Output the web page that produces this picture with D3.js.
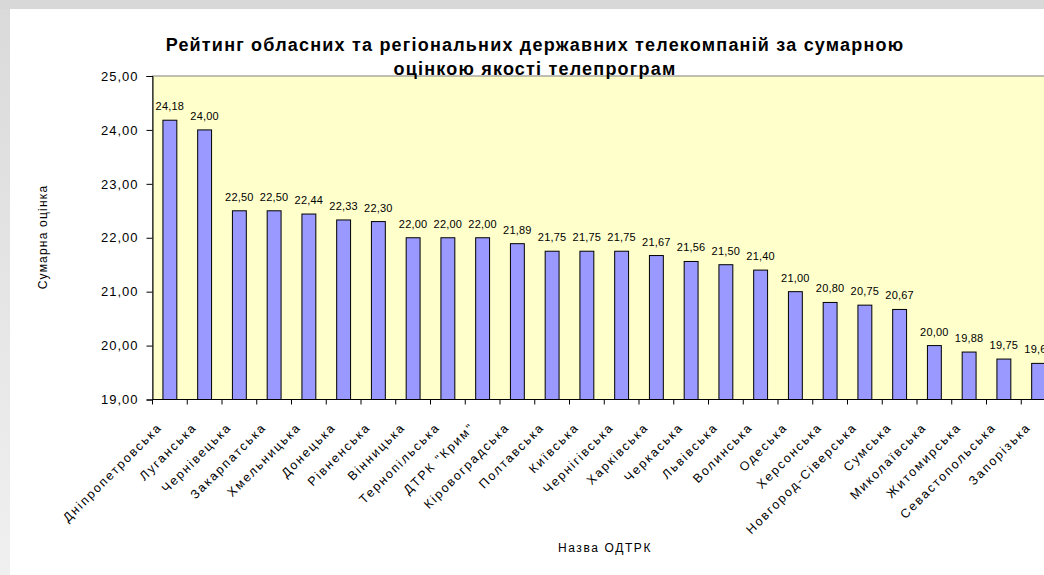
<!DOCTYPE html>
<html>
<head>
<meta charset="utf-8">
<script src="https://cdn.jsdelivr.net/npm/d3@7"></script>
<style>
  body { margin: 0; background: #fff; }
  svg { display: block; font-family: Arial, "Liberation Sans", sans-serif; }
</style>
</head>
<body>
<div id="chart"></div>
<script>
// Chart data
const regions = ["Дніпропетровська", "Луганська", "Чернівецька", "Закарпатська", "Хмельницька",
    "Донецька", "Рівненська", "Вінницька", "Тернопільська", "ДТРК \"Крим\"", "Кіровоградська",
    "Полтавська", "Київська", "Чернігівська", "Харківська", "Черкаська", "Львівська", "Волинська",
    "Одеська", "Херсонська", "Новгород-Сіверська", "Сумська", "Миколаївська", "Житомирська",
    "Севастопольська", "Запорізька"];
const scores = [24.18, 24.00, 22.50, 22.50, 22.44, 22.33, 22.30, 22.00, 22.00, 22.00, 21.89,
    21.75, 21.75, 21.75, 21.67, 21.56, 21.50, 21.40, 21.00, 20.80, 20.75, 20.67,
    20.00, 19.88, 19.75, 19.67];
const yTicks = [19, 20, 21, 22, 23, 24, 25];
const titleLines = ["Рейтинг обласних та регіональних державних телекомпаній за сумарною",
    "оцінкою якості телепрограм"];

const width = 1044;
const height = 575;
const plot = { left: 152.5, top: 76, right: 1056, bottom: 399.5 };

const data = regions.map((r, i) => ({ region: r, score: scores[i] }));
const fmt = v => d3.format(".2f")(v).replace(".", ",");

const svg = d3.select("#chart")
    .append("svg")
    .attr("width", width)
    .attr("height", height);

// page frame: grey strips on top and left
const grad = svg.append("defs").append("linearGradient")
    .attr("id", "leftStrip")
    .attr("x1", 0).attr("y1", 0).attr("x2", 0).attr("y2", 1);
grad.append("stop").attr("offset", "0%").attr("stop-color", "#dadada");
grad.append("stop").attr("offset", "100%").attr("stop-color", "#f0f0f0");

svg.append("rect").attr("x", 0).attr("y", 0).attr("width", width).attr("height", 9).attr("fill", "#d8d8d8");
svg.append("rect").attr("x", 0).attr("y", 9).attr("width", 10).attr("height", height - 9).attr("fill", "url(#leftStrip)");

// Scales
const x = d3.scaleBand()
    .domain(regions)
    .range([plot.left, plot.right])
    .paddingInner(0.6)
    .paddingOuter(0.3);
const xCat = d3.scaleBand()
    .domain(regions)
    .range([plot.left, plot.right]);
const y = d3.scaleLinear()
    .domain([19, 25])
    .range([plot.bottom, plot.top]);

// Plot area
svg.append("rect")
    .attr("x", plot.left)
    .attr("y", plot.top)
    .attr("width", plot.right - plot.left)
    .attr("height", plot.bottom - plot.top)
    .attr("fill", "#ffffcc")
    .attr("stroke", "#808080")
    .attr("stroke-width", 1);

// Bars
svg.append("g")
    .selectAll("rect")
    .data(data)
    .join("rect")
    .attr("x", d => x(d.region))
    .attr("y", d => y(d.score))
    .attr("width", x.bandwidth())
    .attr("height", d => y(19) - y(d.score))
    .attr("fill", "#9999ff")
    .attr("stroke", "#000")
    .attr("stroke-width", 1);

// Value labels
svg.append("g")
    .selectAll("text")
    .data(data)
    .join("text")
    .attr("x", d => x(d.region) + x.bandwidth() / 2)
    .attr("y", d => y(d.score) - 10)
    .attr("text-anchor", "middle")
    .attr("font-size", 11)
    .attr("letter-spacing", 0.2)
    .attr("fill", "#000")
    .text(d => fmt(d.score));

// Y axis
const yAxis = svg.append("g")
    .attr("transform", `translate(${plot.left},0)`)
    .call(d3.axisLeft(y).tickValues(yTicks).tickFormat(fmt).tickSize(6).tickPadding(8));
yAxis.select(".domain").attr("stroke", "#000");
yAxis.selectAll(".tick line").attr("stroke", "#000");
yAxis.selectAll(".tick text")
    .attr("font-size", 13)
    .attr("letter-spacing", 1)
    .attr("font-family", "Arial, 'Liberation Sans', sans-serif")
    .attr("fill", "#000");

// X axis: ticks on category boundaries
const xAxis = svg.append("g");
xAxis.append("line")
    .attr("x1", plot.left).attr("x2", plot.right)
    .attr("y1", plot.bottom).attr("y2", plot.bottom)
    .attr("stroke", "#000");
xAxis.selectAll("line.tk")
    .data(regions)
    .join("line")
    .attr("class", "tk")
    .attr("x1", d => xCat(d)).attr("x2", d => xCat(d))
    .attr("y1", plot.bottom).attr("y2", plot.bottom + 5)
    .attr("stroke", "#000");
xAxis.selectAll("text")
    .data(regions)
    .join("text")
    .attr("transform", d => `translate(${xCat(d) + xCat.bandwidth() / 2 - 7},428) rotate(-45)`)
    .attr("text-anchor", "end")
    .attr("font-size", 12.5)
    .attr("letter-spacing", 1.9)
    .attr("fill", "#000")
    .text(d => d);

// Title
svg.append("g")
    .selectAll("text")
    .data(titleLines)
    .join("text")
    .attr("x", 535)
    .attr("y", (d, i) => 51 + i * 24)
    .attr("text-anchor", "middle")
    .attr("font-size", 18)
    .attr("letter-spacing", 1.2)
    .attr("font-weight", "bold")
    .attr("fill", "#000")
    .text(d => d);

// Axis titles
svg.append("text")
    .attr("transform", "translate(47,237) rotate(-90)")
    .attr("text-anchor", "middle")
    .attr("font-size", 12)
    .attr("letter-spacing", 1.2)
    .text("Сумарна оцінка");

svg.append("text")
    .attr("x", 605)
    .attr("y", 552)
    .attr("text-anchor", "middle")
    .attr("font-size", 12)
    .attr("letter-spacing", 1.6)
    .text("Назва ОДТРК");
</script>
</body>
</html>
